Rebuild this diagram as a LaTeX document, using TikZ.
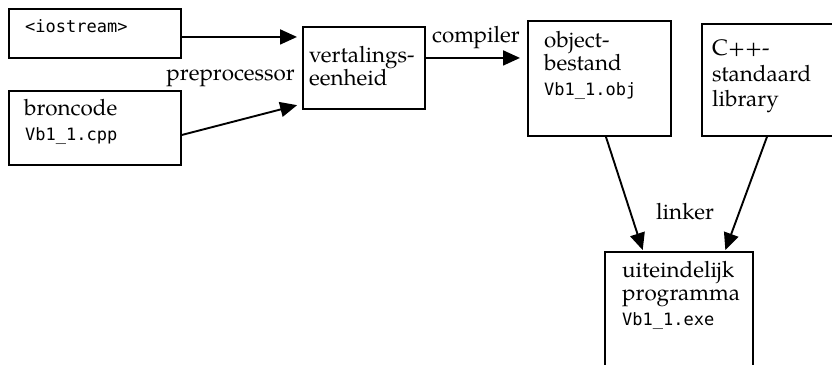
\documentclass[tikz,border=0pt]{standalone}
\usepackage{fontspec}
\newfontfamily\monof{DejaVu Sans Mono}
\newfontfamily\palf{TeX Gyre Pagella}
\usetikzlibrary{arrows.meta,calc}
\tikzset{
  box/.style={draw, line width=1.9pt, inner sep=0pt, anchor=north west},
  ser/.style={font=\palf\fontsize{22.4}{24}\selectfont, inner sep=0pt, anchor=base west},
  mono/.style={font=\monof\fontsize{17}{20}\selectfont, inner sep=0pt, anchor=base west},
  arr/.style={line width=1.9pt, -{Triangle[length=17pt,width=15pt]}},
}
\begin{document}
\begin{tikzpicture}[x=1pt,y=-1pt]
\useasboundingbox (0,0) rectangle (832,364);
\fill[white] (0,0) rectangle (832,364);
\clip (0,0) rectangle (832,364);
% boxes
\node[box, minimum width=172pt, minimum height=49pt] (io) at (8,8) {};
\node[box, minimum width=172pt, minimum height=74pt] (bron) at (8,90) {};
\node[box, minimum width=122pt, minimum height=82pt] (vert) at (302,26) {};
\node[box, minimum width=143pt, minimum height=115pt] (obj) at (527,20) {};
\node[box, minimum width=140pt, minimum height=112pt] (lib) at (701,23) {};
\node[box, minimum width=148pt, minimum height=130pt] (prog) at (604,251) {};
% texts
\node[mono] (tio) at (25,32) {<iostream>};
\node[ser] (tb1) at (24,115) {broncode};
\node[mono] (tb2) at (25,140) {Vb1\_1.cpp};
\node[ser] (tv1) at (309,62) {vertalings-};
\node[ser] (tv2) at (309,85) {eenheid};
\node[ser] (to1) at (544,47) {object-};
\node[ser] (to2) at (544,70) {bestand};
\node[mono] (to3) at (544,95) {Vb1\_1.obj};
\node[ser] (tl1) at (712,55) {C++-};
\node[ser] (tl2) at (712,81) {standaard};
\node[ser] (tl3) at (712,106) {library};
\node[ser] (tp1) at (622,277) {uiteindelijk};
\node[ser] (tp2) at (622,300) {programma};
\node[mono] (tp3) at (622,325) {Vb1\_1.exe};
% labels
\node[ser, anchor=base east] (lpre) at (295,80) {preprocessor};
\node[ser] (lcomp) at (432,42) {compiler};
\node[ser] (llink) at (656,219) {linker};
% connectors
\coordinate (a1) at ([yshift=-3.5pt]io.east);
\draw[arr, shorten >=5pt] (a1) -- (a1 -| vert.west);
\draw[arr, shorten >=5pt] ([yshift=-7pt]bron.east) -- ([yshift=6pt]vert.south west);
\coordinate (c1) at ([yshift=10pt]vert.east);
\draw[arr, shorten >=7pt] (c1) -- (c1 -| obj.west);
\draw[arr, shorten >=1pt] ([xshift=6.5pt]obj.south) -- ([xshift=39pt]prog.north west);
\draw[arr, shorten >=1pt] ([xshift=-5pt]lib.south) -- ([xshift=121pt]prog.north west);
\end{tikzpicture}
\end{document}
